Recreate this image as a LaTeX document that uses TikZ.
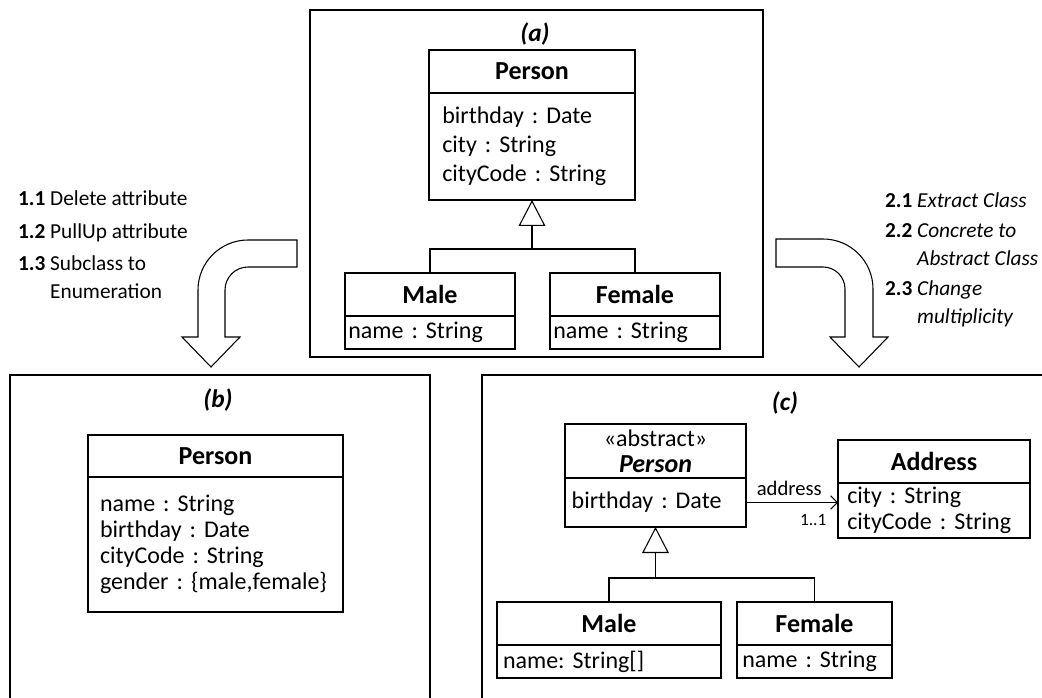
\documentclass[tikz,border=0pt]{standalone}
\usepackage{fontspec}
\setmainfont{Carlito}
\usetikzlibrary{arrows.meta}

\begin{document}
\frenchspacing
\begin{tikzpicture}[x=0.75pt,y=-0.75pt,
  every node/.style={inner sep=0pt,outer sep=0pt},
  panel/.style={line width=1.3pt},
  cname/.style={draw,line width=1pt,font=\fontsize{19.5}{22}\selectfont\bfseries},
  attrs/.style 2 args={draw,line width=1pt,anchor=north,align=left,text width=#1,inner xsep=#2,font=\fontsize{18}{21.75}\selectfont},
  gen/.style={line width=0.8pt,-{Triangle[open,length=19.5pt,width=20pt]}},
  lbl/.style={font=\fontsize{19}{22}\selectfont\bfseries\itshape},
  stepnote/.style={anchor=base west,font=\fontsize{16}{21}\selectfont},
  bigarrow/.style={draw,line width=0.8pt,fill=white}
]
\useasboundingbox (0,0) rectangle (1042,698);

% panels
\draw[panel] (310,10) rectangle (763,357);
\draw[panel] (10,705) |- (430,375) -- (430,705);
\draw[panel] (482,705) |- (1050,375);
\node[lbl] (la) at (535,34) {(a)};
\node[lbl] (lb) at (218,400) {(b)};
\node[lbl] (lc) at (785,403) {(c)};

% (a)
\node[cname,minimum width=154.5pt,minimum height=32.25pt] (pa) at (532,71.5) {Person};
\node[attrs={134.5pt}{10pt},minimum height=80.25pt] (pab) at (pa.south) {birthday : Date\\city : String\\cityCode : String};
\node[cname,minimum width=127.5pt,minimum height=32.25pt] (ma) at (430,294.5) {Male};
\node[attrs={122.5pt}{2.5pt},minimum height=24.75pt] (mab) at (ma.south) {name : String};
\node[cname,minimum width=127.5pt,minimum height=32.25pt] (fa) at (635,294.5) {Female};
\node[attrs={122.5pt}{2.5pt},minimum height=24.75pt] (fab) at (fa.south) {name : String};
\coordinate (ja) at (pab.south |- 0,249);
\draw[line width=0.8pt] (ma.north) |- (ja) -| (fa.north);
\draw[gen] (ja) -- (pab.south);

% (b)
\node[cname,minimum width=191.25pt,minimum height=31.5pt] (pb) at (215.5,456) {Person};
\node[attrs={173.25pt}{9pt},minimum height=101.25pt,font=\fontsize{18}{19.5}\selectfont] (pbb) at (pb.south) {name : String\\birthday : Date\\cityCode : String\\gender : \{male,female\}};

% (c)
\node[draw,line width=1pt,align=center,minimum width=135.75pt,minimum height=40.5pt,font=\fontsize{18}{19.5}\selectfont] (pc) at (655.5,451) {«abstract»\\{\fontsize{19.5}{19.5}\selectfont\bfseries\itshape Person}};
\node[attrs={125.75pt}{5pt},minimum height=36.75pt] (pcb) at (pc.south) {birthday : Date};
\node[cname,minimum width=144pt,minimum height=32.25pt] (ad) at (934,461.5) {Address};
\node[attrs={130pt}{7pt},minimum height=41.25pt,font=\fontsize{18}{19.5}\selectfont] (adb) at (ad.south) {city : String\\cityCode : String};
\draw[line width=0.8pt,-{Straight Barb[length=5pt,width=10pt]}] (pcb.east) -- (pcb.east -| adb.west)
  node[pos=0.47,above=5pt,font=\fontsize{15.5}{18}\selectfont] (as) {address}
  node[pos=0.73,below=9pt,font=\fontsize{13}{15}\selectfont] (mu) {1..1};
\node[cname,minimum width=168pt,minimum height=32.25pt] (mc) at (609,623.5) {Male};
\node[attrs={159pt}{4.5pt},minimum height=24.75pt] (mcb) at (mc.south) {name: String[]};
\node[cname,minimum width=116.25pt,minimum height=32.25pt] (fc) at (814.5,623.5) {Female};
\node[attrs={108.25pt}{4pt},minimum height=24.75pt] (fcb) at (fc.south) {name : String};
\coordinate (jc) at (pcb.south |- 0,578);
\draw[line width=0.8pt] (mc.north) |- (jc) -| (fc.north);
\draw[gen] (jc) -- (pcb.south);

% refactoring steps
\node[stepnote] (s11) at (18,206) {\textbf{1.1} Delete attribute};
\node[stepnote] (s12) at (18,239) {\textbf{1.2} PullUp attribute};
\node[stepnote] (s13) at (18,271) {\textbf{1.3} \begin{tabular}[t]{@{}l@{}}Subclass to\\Enumeration\end{tabular}};
\node[stepnote] (s21) at (885,208) {\textbf{2.1} \textit{Extract Class}};
\node[stepnote] (s22) at (885,238) {\textbf{2.2} \begin{tabular}[t]{@{}l@{}}\textit{Concrete to}\\\textit{Abstract Class}\end{tabular}};
\node[stepnote] (s23) at (885,296) {\textbf{2.3} \begin{tabular}[t]{@{}l@{}}\textit{Change}\\\textit{multiplicity}\end{tabular}};

\draw[bigarrow] (297,240) -- (248,240) arc[start angle=270,end angle=180,radius=50]
  -- (198,337) -- (182,337) -- (211,367) -- (240,337) -- (225,337) -- (225,290)
  arc[start angle=180,end angle=270,radius=23] -- (297,267) -- cycle;
\draw[bigarrow] (776,239) -- (823,239) arc[start angle=270,end angle=360,radius=50]
  -- (873,337) -- (888,337) -- (859,367) -- (830,337) -- (845,337) -- (845,289)
  arc[start angle=0,end angle=-90,radius=22] -- (776,267) -- cycle;
\end{tikzpicture}
\end{document}
